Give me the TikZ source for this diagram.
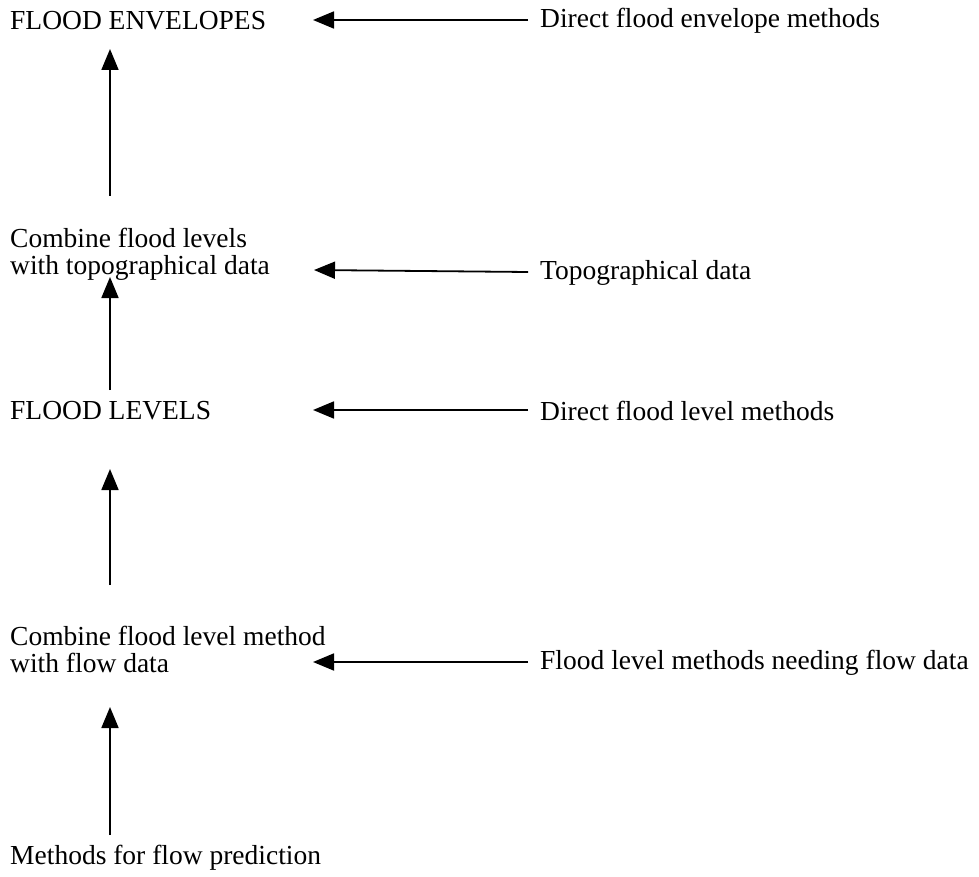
\documentclass[tikz,border=0pt]{standalone}
\usepackage{fontspec}
\setmainfont{Liberation Serif}
\usetikzlibrary{arrows.meta}
\begin{document}
\begin{tikzpicture}[x=1pt,y=-1pt,
  lbl/.style={anchor=west,inner sep=0pt,font=\fontsize{27.5}{27}\selectfont,align=left},
  arr/.style={-{Triangle[length=21pt,width=17pt]},line width=1.8pt,black}]
\useasboundingbox (0,0) rectangle (979,877);
% left column
\node[lbl] (fe) at (10,21) {FLOOD ENVELOPES};
\node[lbl] (cfl) at (10,254) {Combine flood levels\\with topographical data};
\node[lbl] (fl) at (10,411) {FLOOD LEVELS};
\node[lbl] (cflm) at (10,649) {Combine flood level method\\with flow data};
\node[lbl] (mfp) at (10,858) {Methods for flow prediction};
% right column
\node[lbl] (dfe) at (540,21) {Direct flood envelope methods};
\node[lbl] (td) at (540,273) {Topographical data};
\node[lbl] (dfl) at (540,411) {Direct flood level methods};
\node[lbl] (flm) at (540,663) {Flood level methods needing flow data};
% coordinates
\coordinate (h1s) at (528,20);  \coordinate (h1t) at (313,20);
\coordinate (h2s) at (528,272); \coordinate (h2t) at (314,270);
\coordinate (h3s) at (528,410); \coordinate (h3t) at (313,410);
\coordinate (h4s) at (528,662); \coordinate (h4t) at (313,662);
\coordinate (v1s) at (110,196); \coordinate (v1t) at (110,49);
\coordinate (v2s) at (110,390); \coordinate (v2t) at (110,277);
\coordinate (v3s) at (110,585); \coordinate (v3t) at (110,469);
\coordinate (v4s) at (110,835); \coordinate (v4t) at (110,707);
% arrows
\draw[arr] (h1s) -- (h1t);
\draw[arr] (h2s) -- (h2t);
\draw[arr] (h3s) -- (h3t);
\draw[arr] (h4s) -- (h4t);
\draw[arr] (v1s) -- (v1t);
\draw[arr] (v2s) -- (v2t);
\draw[arr] (v3s) -- (v3t);
\draw[arr] (v4s) -- (v4t);
\end{tikzpicture}
\end{document}
